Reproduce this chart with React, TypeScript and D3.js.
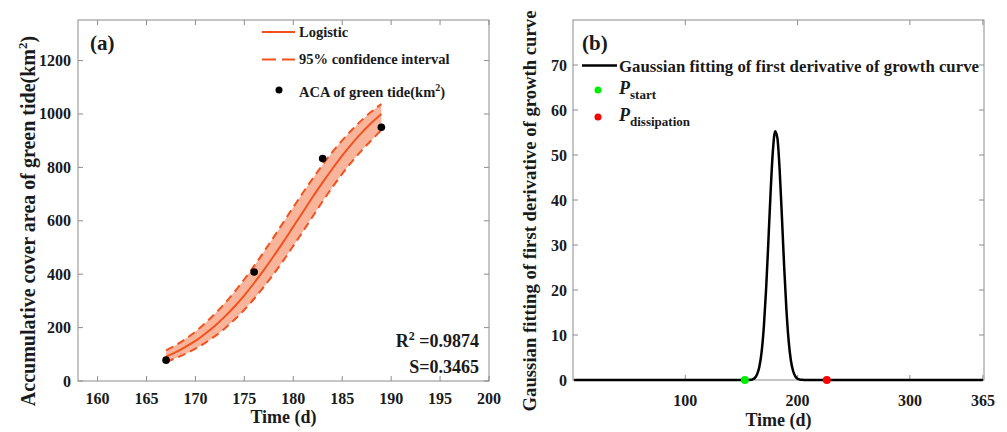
import React from "react";
import * as d3 from "d3";

// ---------- Panel (a) data ----------
const fitDays = [167, 168, 169, 170, 171, 172, 173, 174, 175, 176, 177, 178, 179, 180, 181, 182, 183, 184, 185, 186, 187, 188, 189];
const logisticFit = [91, 108, 128, 150, 177, 207, 241, 279, 321, 367, 416, 468, 522, 578, 634, 690, 744, 795, 844, 889, 930, 967, 1000];
const ciUpper = [115, 134, 158, 185, 217, 252, 291, 334, 381, 431, 484, 539, 595, 651, 706, 759, 810, 858, 901, 941, 977, 1009, 1037];
const ciLower = [72, 86, 102, 121, 143, 168, 197, 230, 267, 308, 353, 401, 452, 506, 561, 617, 673, 726, 776, 822, 864, 902, 940];
const acaDays = [167, 176, 183, 189];
const acaValues = [78, 408, 833, 950];
const xTicksA = [160, 165, 170, 175, 180, 185, 190, 195, 200];
const yTicksA = [0, 200, 400, 600, 800, 1000, 1200];

// ---------- Panel (b) data ----------
const gaussDays = [1, 150, 156, 158, 160, 162, 164, 166, 168, 170, 172, 174, 176, 178, 180, 182, 184, 186, 188, 190, 192, 194, 196, 198, 200, 202, 204, 206, 210, 365];
const gaussValues = [0, 0, 0.01, 0.05, 0.16, 0.48, 1.3, 3.0, 6.3, 12.0, 20.4, 30.9, 41.9, 50.9, 55.3, 53.8, 46.8, 36.5, 25.4, 15.9, 8.8, 4.4, 2.0, 0.8, 0.28, 0.09, 0.03, 0, 0, 0];
const pStart = { day: 153, value: 0 };
const pDissipation = { day: 226, value: 0 };
const xTicksB = [100, 200, 300, 365];
const yTicksB = [0, 10, 20, 30, 40, 50, 60, 70];

const FONT = "'Liberation Serif', 'Times New Roman', serif";
const AXIS = "#8c8c8c";
const TXT = "#1a1a1a";
const ORANGE = "#f4511e";
const BAND = "#f9b59c";

export default function App() {
  // Panel (a) geometry
  const a = { l: 78, r: 489, t: 20, b: 381 };
  const xA = d3.scaleLinear().domain([158, 200]).range([a.l, a.r]);
  const yA = d3.scaleLinear().domain([0, 1352]).range([a.b, a.t]);

  // Panel (b) geometry
  const bb = { l: 573, r: 984, t: 20, b: 380 };
  const xB = d3.scaleLinear().domain([0, 366]).range([bb.l, bb.r]);
  const yB = d3.scaleLinear().domain([0, 80]).range([bb.b, bb.t]);

  const area = d3
    .area<number>()
    .x((_, i) => xA(fitDays[i]))
    .y0((_, i) => yA(ciLower[i]))
    .y1((_, i) => yA(ciUpper[i]))
    .curve(d3.curveMonotoneX);
  const lineA = (vals: number[]) =>
    d3
      .line<number>()
      .x((_, i) => xA(fitDays[i]))
      .y((d) => yA(d))
      .curve(d3.curveMonotoneX)(vals) || "";
  const gaussLine =
    d3
      .line<number>()
      .x((_, i) => xB(gaussDays[i]))
      .y((d) => yB(d))
      .curve(d3.curveMonotoneX)(gaussValues) || "";

  const tl = 5;

  return (
    <svg
      width={1007}
      height={432}
      style={{ position: "absolute", left: 0, top: 0, background: "#fff" }}
      fontFamily={FONT}
      fontWeight="bold"
    >
      <rect x={0} y={0} width={1007} height={432} fill="#fff" />
      {/* ================= Panel (a) ================= */}
      <path d={area(fitDays.map((d) => d)) || ""} fill={BAND} stroke="none" />
      <path d={lineA(ciUpper)} fill="none" stroke={ORANGE} strokeWidth={2} strokeDasharray="8,5" />
      <path d={lineA(ciLower)} fill="none" stroke={ORANGE} strokeWidth={2} strokeDasharray="8,5" />
      <path d={lineA(logisticFit)} fill="none" stroke={ORANGE} strokeWidth={2} />
      {acaDays.map((d, i) => (
        <circle key={i} cx={xA(d)} cy={yA(acaValues[i])} r={3.8} fill="#000" />
      ))}
      <rect x={a.l} y={a.t} width={a.r - a.l} height={a.b - a.t} fill="none" stroke={AXIS} strokeWidth={1} />
      {xTicksA.map((t) => (
        <g key={t}>
          <line x1={xA(t)} x2={xA(t)} y1={a.b} y2={a.b - tl} stroke={AXIS} />
          <line x1={xA(t)} x2={xA(t)} y1={a.t} y2={a.t + tl} stroke={AXIS} />
          <text x={xA(t)} y={404} textAnchor="middle" fontSize={16} fill={TXT}>
            {t}
          </text>
        </g>
      ))}
      {yTicksA.map((t) => (
        <g key={t}>
          <line x1={a.l} x2={a.l + tl} y1={yA(t)} y2={yA(t)} stroke={AXIS} />
          <line x1={a.r} x2={a.r - tl} y1={yA(t)} y2={yA(t)} stroke={AXIS} />
          <text x={71} y={yA(t) + 5.5} textAnchor="end" fontSize={16} fill={TXT}>
            {t}
          </text>
        </g>
      ))}
      <text x={(a.l + a.r) / 2} y={423} textAnchor="middle" fontSize={18} fill={TXT}>
        Time (d)
      </text>
      <text transform={`translate(35,221) rotate(-90)`} textAnchor="middle" fontSize={20} fill={TXT}>
        Accumulative cover area of green tide(km
        <tspan dy={-8} fontSize={13}>2</tspan>
        <tspan dy={8}>)</tspan>
      </text>
      <text x={90} y={50} fontSize={21} fill={TXT}>
        (a)
      </text>
      {/* legend (a) */}
      <line x1={262} x2={295} y1={32} y2={32} stroke={ORANGE} strokeWidth={2} />
      <text x={299} y={37} fontSize={14.5} fill={TXT}>
        Logistic
      </text>
      <line x1={262} x2={295} y1={59.5} y2={59.5} stroke={ORANGE} strokeWidth={2} strokeDasharray="14,6" />
      <text x={299} y={64} fontSize={14.5} fill={TXT}>
        95% confidence interval
      </text>
      <circle cx={279} cy={90} r={3.5} fill="#000" />
      <text x={299} y={97} fontSize={14.5} fill={TXT}>
        ACA of green tide(km
        <tspan dy={-6} fontSize={10}>2</tspan>
        <tspan dy={6}>)</tspan>
      </text>
      <text x={479} y={347} textAnchor="end" fontSize={18} fill={TXT}>
        R<tspan dy={-7} fontSize={12}>2</tspan>
        <tspan dy={7}> =0.9874</tspan>
      </text>
      <text x={479} y={373} textAnchor="end" fontSize={18} fill={TXT}>
        S=0.3465
      </text>

      {/* ================= Panel (b) ================= */}
      <rect x={bb.l} y={bb.t} width={bb.r - bb.l} height={bb.b - bb.t} fill="none" stroke={AXIS} strokeWidth={1} />
      {xTicksB.map((t) => (
        <g key={t}>
          <line x1={xB(t)} x2={xB(t)} y1={bb.b} y2={bb.b - tl} stroke={AXIS} />
          <line x1={xB(t)} x2={xB(t)} y1={bb.t} y2={bb.t + tl} stroke={AXIS} />
          <text x={xB(t)} y={406} textAnchor="middle" fontSize={16} fill={TXT}>
            {t}
          </text>
        </g>
      ))}
      {yTicksB.map((t) => (
        <g key={t}>
          <line x1={bb.l} x2={bb.l + tl} y1={yB(t)} y2={yB(t)} stroke={AXIS} />
          <line x1={bb.r} x2={bb.r - tl} y1={yB(t)} y2={yB(t)} stroke={AXIS} />
          <text x={567} y={yB(t) + 5.5} textAnchor="end" fontSize={16} fill={TXT}>
            {t}
          </text>
        </g>
      ))}
      <path d={gaussLine} fill="none" stroke="#000" strokeWidth={2.5} />
      <circle cx={xB(pStart.day)} cy={yB(pStart.value)} r={4} fill="#00ee00" />
      <circle cx={xB(pDissipation.day)} cy={yB(pDissipation.value)} r={4} fill="#ff0000" />
      <text x={(bb.l + bb.r) / 2} y={426} textAnchor="middle" fontSize={18} fill={TXT}>
        Time (d)
      </text>
      <text transform={`translate(536,211) rotate(-90)`} textAnchor="middle" fontSize={18.7} fill={TXT}>
        Gaussian fitting of first derivative of growth curve
      </text>
      <text x={582} y={50} fontSize={21} fill={TXT}>
        (b)
      </text>
      {/* legend (b) */}
      <line x1={582} x2={617} y1={65.5} y2={65.5} stroke="#000" strokeWidth={2.5} />
      <text x={619} y={72} fontSize={16.8} fill={TXT}>
        Gaussian fitting of first derivative of growth curve
      </text>
      <circle cx={598} cy={90} r={3.5} fill="#00ee00" />
      <text x={619} y={94} fontSize={18} fill={TXT}>
        <tspan fontStyle="italic">P</tspan>
        <tspan dy={5} fontSize={13}>start</tspan>
      </text>
      <circle cx={598} cy={117} r={3.5} fill="#ff0000" />
      <text x={619} y={121} fontSize={18} fill={TXT}>
        <tspan fontStyle="italic">P</tspan>
        <tspan dy={5} fontSize={13}>dissipation</tspan>
      </text>
    </svg>
  );
}
